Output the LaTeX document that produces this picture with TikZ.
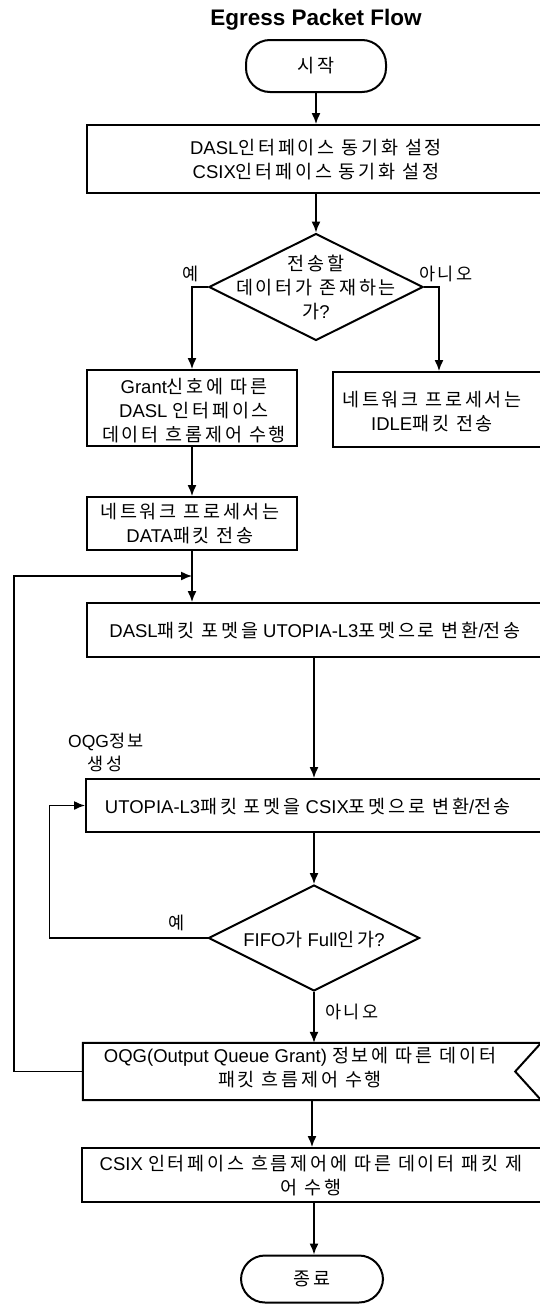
\documentclass[tikz,border=0pt]{standalone}
\usepackage{fontspec}
\setmainfont{Liberation Sans}
\newfontfamily\kr[LetterSpace=15]{Noto Sans CJK KR}
\newcommand\K[1]{{\kr #1}}
\usetikzlibrary{arrows.meta,shapes.geometric}
\tikzset{
  boxline/.style={draw=black, line width=2pt},
  boxnode/.style={boxline, rectangle, inner sep=0pt},
  shapeonly/.style={rectangle, inner sep=0pt},
  txt/.style={align=center, inner sep=0pt, font=\fontsize{18.5}{24}\selectfont},
  lbl/.style={inner sep=0pt, font=\fontsize{17.5}{20}\selectfont},
  term/.style={boxline, rectangle, rounded corners=24pt, inner sep=0pt},
  dia/.style={boxline, diamond, inner sep=0pt},
  conn/.style={draw=black, line width=1.4pt},
  arr/.style={conn, -{Latex[length=11pt,width=9pt]}}
}
\begin{document}
\begin{tikzpicture}[x=1pt,y=-1pt]
\useasboundingbox (0,0) rectangle (540,1304);
% title
\node[inner sep=0pt, font=\fontsize{22.5}{26}\selectfont\bfseries] (title) at (316,20) {Egress Packet Flow};
% start
\node[term, minimum width=140pt, minimum height=52pt] (start) at (316,66) {};
\node[txt] (tstart) at (316,66) {\K{시작}};
% box 1
\node[boxnode, minimum width=458pt, minimum height=68pt] (b1) at (316,159) {};
\node[txt] (t1) at (316,160) {DASL\K{인터페이스 동기화 설정}\\CSIX\K{인터페이스 동기화 설정}};
% decision 1
\node[dia, minimum width=214pt, minimum height=107pt] (d1) at (316,287) {};
\node[txt] (td1) at (316,287) {\K{전송할}\\\K{데이터가 존재하는}\\\K{가}?};
\node[lbl] (yes1) at (191,274) {\K{예}};
\node[lbl] (no1) at (446,274) {\K{아니오}};
% box 2, 3
\node[boxnode, minimum width=210pt, minimum height=76pt] (b2) at (192,408) {};
\node[txt] (t2) at (194,411) {Grant\K{신호에 따른}\\DASL \K{인터페이스}\\\K{데이터 흐롬제어 수행}};
\node[boxnode, minimum width=212pt, minimum height=75pt] (b3) at (439,409.5) {};
\node[txt] (t3) at (432,412) {\K{네트워크 프로세서는}\\IDLE\K{패킷 전송}};
% box 4
\node[boxnode, minimum width=210pt, minimum height=53pt] (b4) at (192,523.5) {};
\node[txt] (t4) at (190,524) {\K{네트워크 프로세서는}\\DATA\K{패킷 전송}};
% box 5
\node[boxnode, minimum width=454pt, minimum height=54pt] (b5) at (314,630) {};
\node[txt] (t5) at (315,631) {DASL\K{패킷 포멧을} UTOPIA-L3\K{포멧으로 변환}/\K{전송}};
\coordinate (jn) at (192,576);
% OQG label
\node[lbl] (oqg1) at (106,742) {OQG\K{정보}};
\node[lbl] (oqg2) at (105,764) {\K{생성}};
% box 6
\node[boxnode, minimum width=456pt, minimum height=53pt] (b6) at (314,805.5) {};
\node[txt] (t6) at (308,807) {UTOPIA-L3\K{패킷 포멧을} CSIX\K{포멧으로 변환}/\K{전송}};
% decision 2
\node[dia, minimum width=211pt, minimum height=106pt] (d2) at (314,938) {};
\node[txt] (td2) at (314,940) {FIFO\K{가} Full\K{인가}?};
\node[lbl] (yes2) at (177,923) {\K{예}};
\node[lbl] (no2) at (352,1012) {\K{아니오}};
% box 7 (notched)
\node[shapeonly, minimum width=458pt, minimum height=57pt] (b7) at (312,1071.5) {};
\draw[boxline] (b7.north west) -- (b7.north east) -- ([xshift=-26pt]b7.east) -- (b7.south east) -- (b7.south west) -- cycle;
\node[txt] (t7) at (300,1068) {OQG(Output Queue Grant) \K{정보에 따른 데이터}\\\K{패킷 흐름제어 수행}};
% box 8
\node[boxnode, minimum width=464pt, minimum height=54pt] (b8) at (314,1175) {};
\node[txt] (t8) at (311,1176) {CSIX \K{인터페이스 흐름제어에 따른 데이터 패킷 제}\\\K{어 수행}};
% end
\node[term, minimum width=142pt, minimum height=47pt] (end) at (312,1279) {};
\node[txt] (tend) at (312,1279) {\K{종료}};
% connectors
\draw[arr] (start.south) -- (start.south |- b1.north);
\draw[arr] (b1.south) -- (d1.north);
\draw[arr] (d1.west) -| (b2.north);
\draw[arr] (d1.east) -| (b3.north);
\draw[arr] (b2.south) -- (b4.north);
\draw[arr] (b4.south) -- (b4.south |- b5.north);
\draw[arr] (b5.south) -- (b5.south |- b6.north);
\draw[arr] (b6.south) -- (d2.north);
\draw[arr] (d2.west) -- ++(-158,0) |- (b6.west);
\draw[arr] (d2.south) -- (d2.south |- b7.north);
\draw[arr] (b7.west) -- ++(-69,0) |- (jn);
\draw[arr] (b7.south) -- (b7.south |- b8.north);
\draw[arr] (b8.south) -- (b8.south |- end.north);
\end{tikzpicture}
\end{document}
